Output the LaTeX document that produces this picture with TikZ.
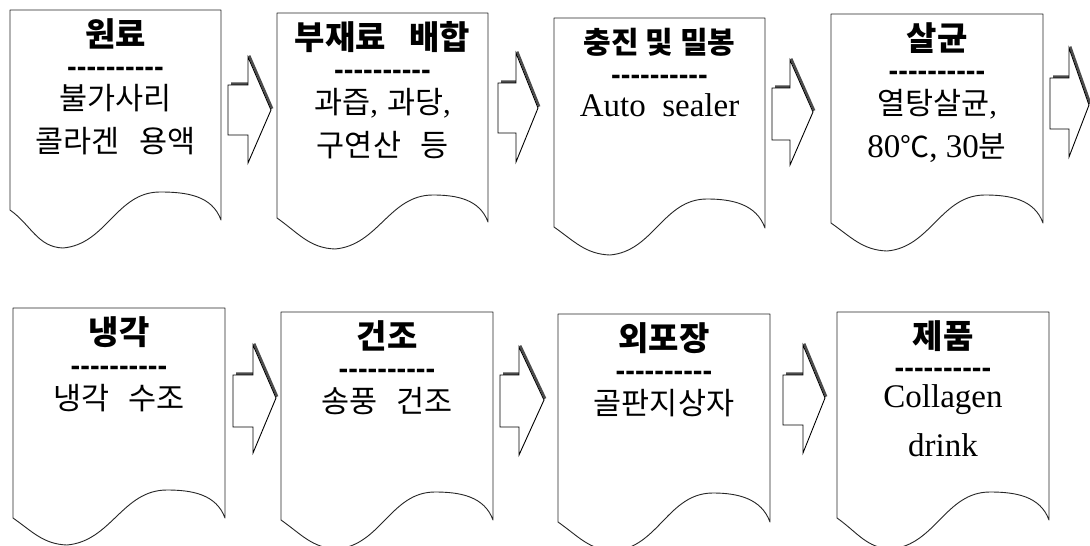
\documentclass[tikz,border=0pt]{standalone}
\usepackage{fontspec}
\setmainfont{Liberation Serif}
\newfontfamily\kr{Noto Sans CJK KR}
\newfontfamily\krt{Noto Sans CJK KR}
\newfontfamily\dashfont{Liberation Sans}
\newcommand{\Dashes}{{\dashfont\bfseries\fontsize{29}{30}\selectfont -\kern0pt-\kern0pt-\kern0pt-\kern0pt-\kern0pt-\kern0pt-\kern0pt-\kern0pt-\kern0pt-}}
\newcommand{\krbody}{\kr\fontsize{30.5}{34}\selectfont\spaceskip 19pt\relax}
\newcommand{\krbodyn}{\kr\fontsize{30.5}{34}\selectfont\spaceskip 9pt\relax}
\tikzset{
  docbox/.style={draw=black!85, line width=0.9pt, fill=white, line join=round},
  arrbody/.style={draw=black, line width=0.9pt, fill=white, line join=miter},
  arrshadow/.style={draw=black!70, line width=2.4pt},
  ttl/.style={anchor=base, inner sep=0pt, font=\krt\bfseries\fontsize{33}{36}\selectfont},
  dsh/.style={anchor=base, inner sep=0pt},
  bdy/.style={anchor=base, inner sep=0pt, font=\krbody},
  lat/.style={anchor=base, inner sep=0pt, font=\fontsize{33}{38}\selectfont},
}
% L T R LB minx miny crx cry RB
\newcommand{\DocBox}[9]{%
  \filldraw[docbox] (#1,#2) -- (#3,#2) -- (#3,#9)
    to[out=110,in=0] (#7,#8)
    to[out=180,in=5] (#5,#6)
    to[out=178,in=-35] (#1,#4) -- cycle;}
% x0 y1 y2 xh yt yb xt ym
\newcommand{\BlockArrow}[8]{%
  \draw[arrshadow, xshift=1.2pt, yshift=1.4pt] (#1+2,#2) -- (#4,#2) (#4,#5) -- (#7,#8);
  \filldraw[arrbody] (#1,#2) -- (#4,#2) -- (#4,#5) -- (#7,#8) -- (#4,#6) -- (#4,#3) -- (#1,#3) -- cycle;}
\begin{document}
\begin{tikzpicture}[x=1pt,y=-1pt]
\fill[white] (0,0) rectangle (1090,546);
\useasboundingbox (0,0) rectangle (1090,546);
\begin{scope}
\clip (0,0) rectangle (1090,546);
% top row
\DocBox{10}{10}{221}{210}{63}{248}{160}{192}{220}
\DocBox{277}{13}{488}{218}{335}{249}{433}{195}{222}
\DocBox{554}{18}{765}{227}{610}{255}{707}{199}{228}
\DocBox{831}{14}{1043}{223}{887}{251}{985}{195}{223}
% bottom row
\DocBox{13}{308}{225}{518}{67}{545}{167}{490}{518}
\DocBox{281}{312}{493}{520}{337}{549}{435}{492}{520}
\DocBox{558}{314}{770}{522}{614}{551}{713}{493}{522}
\DocBox{837}{312}{1049}{518}{891}{549}{990}{492}{520}
% arrows
\BlockArrow{228}{85}{135}{248}{57}{163}{271}{110}
\BlockArrow{498}{83}{133}{516}{53}{162}{538}{108}
\BlockArrow{772}{88}{140}{790}{60}{165}{813}{112}
\BlockArrow{1050}{78}{129}{1069}{48}{157}{1089}{105}
\BlockArrow{233}{375}{427}{253}{345}{453}{276}{398}
\BlockArrow{500}{375}{427}{519}{347}{455}{544}{400}
\BlockArrow{783}{375}{425}{803}{345}{453}{825}{398}
\end{scope}
% box 1
\node[ttl] (t1) at (115.5,46) {원료};
\node[dsh] (d1) at (115.5,76) {\Dashes};
\node[bdy] (a1) at (115.5,109) {불가사리};
\node[bdy] (b1) at (115.5,152) {콜라겐 용액};
% box 2
\node[ttl] (t2) at (382.5,49) {부재료\hspace{16pt} 배합};
\node[dsh] (d2) at (382.5,79) {\Dashes};
\node[bdy, font=\krbodyn] (a2) at (382.5,113) {과즙{\rmfamily,} 과당{\rmfamily,}};
\node[bdy] (b2) at (382.5,156) {구연산 등};
% box 3
\node[ttl, font=\krt\bfseries\fontsize{30}{34}\selectfont] (t3) at (659.5,53) {충진 및 밀봉};
\node[dsh] (d3) at (659.5,84) {\Dashes};
\node[lat] (a3) at (659.5,116) {Auto\ \ sealer};
% box 4
\node[ttl] (t4) at (937,50) {살균};
\node[dsh] (d4) at (937,80) {\Dashes};
\node[bdy] (a4) at (937,114) {열탕살균{\rmfamily,}};
\node[lat] (b4) at (937,157) {80{\krt\fontsize{29}{34}\selectfont ℃}, 30{\krt\fontsize{30}{34}\selectfont 분}};
% box 5
\node[ttl] (t5) at (119,344) {냉각};
\node[dsh] (d5) at (119,375) {\Dashes};
\node[bdy] (a5) at (119,409) {냉각 수조};
% box 6
\node[ttl] (t6) at (387,348) {건조};
\node[dsh] (d6) at (387,378) {\Dashes};
\node[bdy] (a6) at (387,412) {송풍 건조};
% box 7
\node[ttl] (t7) at (664,350) {외포장};
\node[dsh] (d7) at (664,380) {\Dashes};
\node[bdy] (a7) at (664,414) {골판지상자};
% box 8
\node[ttl] (t8) at (943,348) {제품};
\node[dsh] (d8) at (943,377) {\Dashes};
\node[lat] (a8) at (943,407) {Collagen};
\node[lat] (b8) at (943,456) {drink};
\end{tikzpicture}
\end{document}
